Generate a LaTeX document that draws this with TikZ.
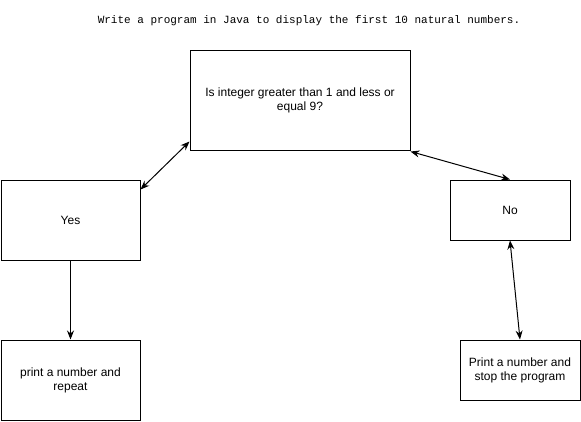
\documentclass[tikz,border=0pt]{standalone}
\usepackage{fontspec}
\setmainfont{Liberation Sans}
\newfontfamily\codefont{Liberation Mono}
\usetikzlibrary{arrows.meta}

\tikzset{
  box/.style={draw, line width=1pt, inner sep=0pt, align=center,
              font=\fontsize{12}{14}\selectfont},
  link/.style={line width=1pt, {Stealth[length=9pt,width=7pt]}-{Stealth[length=9pt,width=7pt]}},
  onelink/.style={line width=1pt, -{Stealth[length=9pt,width=7pt]}}
}

\begin{document}
\begin{tikzpicture}[x=1pt,y=-1pt]
      \useasboundingbox (0,0) rectangle (581,421);
      \node[font=\codefont\fontsize{11}{13}\selectfont] (title) at (309,21)
           {Write a program in Java to display the first 10 natural numbers.};
      \node[box, minimum width=220pt, minimum height=100pt] (q) at (300,100)
           {Is integer greater than 1 and less or\\equal 9?};
      \node[box, minimum width=139pt, minimum height=80pt] (yes) at (70.5,220) {Yes};
      \node[box, minimum width=120pt, minimum height=60pt] (no) at (510,210) {No};
      \node[box, minimum width=139pt, minimum height=80pt] (rep) at (70.5,380)
           {print a number and\\repeat};
      \node[box, minimum width=120pt, minimum height=60pt] (stop) at (520,370)
           {Print a number and\\stop the program};
      % arrows
      \draw[link] ([yshift=9pt]q.south west) -- ([yshift=-10pt]yes.north east);
      \draw[link] ([yshift=-1pt]q.south east) -- (no.north);
      \draw[onelink] (yes.south) -- (rep.north);
      \draw[link] (no.south) -- (stop.north);
  \end{tikzpicture}
\end{document}
